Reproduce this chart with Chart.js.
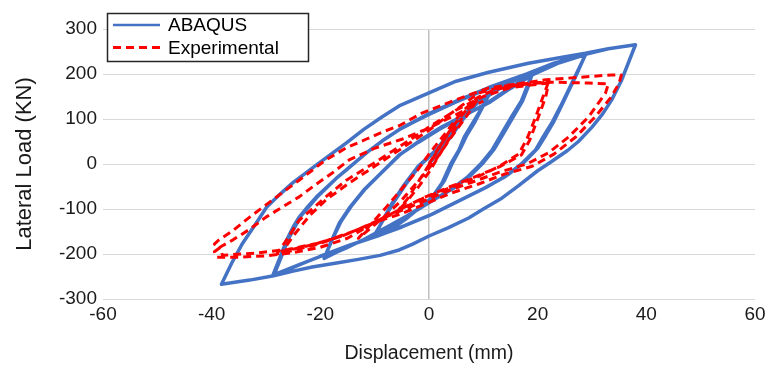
<!DOCTYPE html>
<html>
<head>
<meta charset="utf-8">
<script src="https://cdn.jsdelivr.net/npm/chart.js@4.4.1/dist/chart.umd.min.js"></script>
<style>
body { margin: 0; background: #fff; }
</style>
</head>
<body>
<canvas id="loadChart" width="771" height="365"></canvas>
<script>
// ABAQUS hysteresis (displacement mm / load kN)
const abaqusDisp = [
    0, 2, 4, 6, 8, 10, 11,
    9.5, 8, 6.5, 5.5, 4, 2.4, 0.5, -2, -4, -6, -8, -10,
    -8.5, -6.8, -4.5, -2, 1.3, 3.5, 5.5, 7.5, 9.2, 11,
    9.8, 8.5, 7, 5.8, 4.3, 2.8, 0.8, -1.8, -4, -6.2, -8.2, -10,
    -8.3, -6.5, -4.2, -1.7, 1.6, 3.8, 5.8, 7.8, 9.5, 11, 14, 17, 19,
    18, 17, 15.2, 13.5, 11.6, 9.5, 7, 4, 0, -4, -8, -12, -16, -19.3,
    -18, -16.5, -14.5, -12, -9, -5.5, -2, 2, 6, 11, 15, 19,
    18.2, 17.2, 15.5, 13.8, 12, 10, 7.5, 4.5, 0.5, -3.5, -7.5, -11.5, -15.5, -19.2,
    -17.8, -16.2, -14.2, -11.7, -8.7, -5.2, -1.7, 2.3, 6.3, 11.3, 15, 19, 24, 28.8,
    27.3, 25.7, 24.2, 22.6, 21, 19.6, 17, 14, 10, 5, 0, -5, -10, -15, -20, -24, -28.8,
    -27.5, -26.2, -25, -23.9, -22.3, -20.7, -17, -15.3, -11.6, -8.5, -5.5, -2.5, 0, 5, 11, 18, 23, 28.8,
    27.5, 26, 24.5, 23, 21.5, 20, 17.5, 14.5, 10.5, 5.5, 0.5, -4.5, -9.5, -14.5, -19.5, -24, -28.5,
    -27.2, -25.9, -23.6, -20.4, -16.8, -11.4, -8.3, -5.3, -2.3, 0, 5, 11, 18, 23, 28.8, 33, 38,
    36.7, 35.4, 33.6, 32, 30, 27.5, 25.5, 22.5, 20, 16.5, 13.4, 10, 7.3, 3.5, 0, -3, -5.5, -9, -13, -17, -21.5, -25, -28.8, -33, -38.2,
    -36.3, -34.3, -32, -29.9, -27.5, -25.1, -20.7, -15.2, -12, -8.6, -5.5, 0, 5, 11, 18.3, 24, 28.8, 33, 38
];
const abaqusLoad = [
    0, 30, 60, 95, 125, 148, 155,
    120, 90, 60, 31, 0, -42, -75, -100, -120, -137, -150, -160,
    -125, -87, -45, -5, 31, 65, 95, 122, 142, 153,
    125, 95, 65, 35, 2, -38, -72, -98, -118, -135, -148, -157,
    -122, -85, -44, -3, 33, 66, 96, 123, 142, 152, 175, 193, 203,
    170, 140, 105, 70, 31, 0, -30, -57, -85, -115, -142, -168, -190, -210,
    -172, -131, -95, -58, -22, 20, 48, 78, 104, 138, 170, 200,
    170, 140, 105, 70, 33, 3, -27, -54, -82, -112, -140, -165, -188, -207,
    -168, -128, -92, -55, -19, 22, 52, 82, 107, 138, 168, 198, 225, 243,
    205, 165, 128, 91, 60, 31, 0, -28, -55, -85, -115, -140, -162, -182, -205, -225, -249,
    -210, -169, -140, -118, -95, -73, -31, -14, 24, 52, 76, 95, 110, 138, 168, 198, 222, 243,
    208, 170, 132, 95, 64, 35, 4, -24, -52, -82, -112, -137, -160, -180, -203, -224, -246,
    -207, -167, -116, -71, -29, 26, 54, 78, 97, 112, 140, 170, 200, 224, 244, 256, 265,
    225, 185, 142, 112, 82, 50, 30, 5, -15, -48, -76, -100, -120, -142, -160, -178, -191, -203, -212, -220, -229, -238, -249, -258, -267,
    -220, -176, -135, -96, -68, -42, -2, 47, 77, 105, 129, 158, 184, 204, 224, 236, 246, 256, 265
];

// Experimental hysteresis
const expDisp = [
    0, 2, 4, 6,
    4, 2, 0, -2, -4, -6,
    -4, -2, 0, 2, 4, 7, 9,
    7, 4, 1, -2, -5, -8, -11, -13,
    -11, -8, -5, -2, 0, 3, 6, 9, 12, 16, 22,
    21, 19.5, 18, 16.5, 13, 9, 4, -1, -6, -11, -16, -21, -25, -28,
    -26, -23.9, -21, -19, -15.2, -10, -5, 0, 5, 10, 15, 22,
    21.5, 20, 18.5, 17, 13, 9, 4, -1, -6, -11, -16, -21, -27,
    -25, -22, -19, -15, -10, -5, 0, 4, 9.2, 15, 21.5, 28, 33.6, 35.4,
    35, 33.6, 30.6, 27, 23, 19, 14, 9, 4, 0, -5, -10, -15, -20, -25, -30, -35, -39,
    -39.5, -38.5, -39.5, -38.8,
    -36, -33, -28.8, -23.9, -19, -15.2, -11.6, -8.6, -5.5, -1.3, 5, 11, 15, 21.5, 29.4, 33,
    32.5, 29.4, 25.7, 22, 18, 13, 8, 3, -2, -8, -14, -20, -26, -32, -38,
    -38.5, -36, -33, -30, -26.9, -23.9, -20.9, -17.8, -14.7, -10, -5, 0, 5, 10
];
const expLoad = [
    0, 40, 75, 100,
    62, 22, -18, -52, -82, -108,
    -78, -40, -2, 38, 78, 122, 145,
    108, 58, 5, -38, -80, -115, -145, -165,
    -138, -98, -55, -12, 22, 68, 115, 148, 165, 175, 182,
    150, 100, 55, 22, -5, -28, -52, -76, -105, -135, -160, -180, -192, -200,
    -165, -125, -95, -73, -36, 3, 42, 82, 120, 150, 170, 180,
    150, 100, 52, 20, -6, -26, -50, -75, -105, -135, -160, -178, -195,
    -160, -115, -80, -45, -5, 35, 75, 112, 158, 176, 187, 193, 198, 198,
    180, 150, 105, 60, 22, -5, -22, -45, -65, -85, -110, -130, -165, -185, -197, -204, -207, -207,
    -195, -186, -178, -170,
    -147, -118, -80, -36, 9, 36, 55, 71, 85, 113, 143, 169, 176, 182, 180, 178,
    158, 105, 60, 25, 0, -18, -40, -62, -88, -118, -150, -175, -190, -198, -203,
    -185, -168, -145, -118, -95, -73, -46, -20, 9, 35, 55, 80, 110, 140
];

const xTicks = [-60, -40, -20, 0, 20, 40, 60];
const yTicks = [-300, -200, -100, 0, 100, 200, 300];

const fontFamily = '"Liberation Sans", Arial, sans-serif';

function toPoints(xs, ys) {
    return xs.map((x, i) => ({x: x, y: ys[i]}));
}

// legend drawn inside the plot, top left, like the original figure
const legendBox = {
    id: 'legendBox',
    afterDraw(chart) {
        const ctx = chart.ctx;
        ctx.save();
        ctx.fillStyle = '#fff';
        ctx.fillRect(107.5, 13.5, 201, 48);
        ctx.strokeStyle = '#262626';
        ctx.lineWidth = 1.5;
        ctx.strokeRect(107.5, 13.5, 201, 48);
        chart.data.datasets.forEach((ds, i) => {
            const y = 25 + i * 22.5;
            ctx.beginPath();
            ctx.setLineDash(ds.borderDash || []);
            ctx.strokeStyle = ds.borderColor;
            ctx.lineWidth = i == 0 ? 2.5 : 3;
            ctx.moveTo(113, y);
            ctx.lineTo(160, y);
            ctx.stroke();
            ctx.setLineDash([]);
            ctx.fillStyle = '#000';
            ctx.font = '19px ' + fontFamily;
            ctx.textBaseline = 'middle';
            ctx.fillText(ds.label, 168, y + 1);
        });
        ctx.restore();
    }
};

const data = {
    datasets: [{
        label: 'ABAQUS',
        data: toPoints(abaqusDisp, abaqusLoad),
        borderColor: '#4472C4',
        backgroundColor: '#4472C4',
        borderWidth: 3.5,
        borderJoinStyle: 'round',
        showLine: true,
        tension: 0,
        pointRadius: 0,
        order: 1
    },
    {
        label: 'Experimental',
        data: toPoints(expDisp, expLoad),
        borderColor: '#FF0000',
        backgroundColor: '#FF0000',
        borderWidth: 3,
        borderDash: [8, 5],
        borderJoinStyle: 'round',
        showLine: true,
        tension: 0,
        pointRadius: 0,
        order: 0
    }]
};

const config = {
    type: 'scatter',
    data,
    options: {
        responsive: false,
        animation: false,
        layout: {padding: {left: 0, top: 29, right: 16, bottom: 0}},
        plugins: {
            legend: {display: false},
            tooltip: {enabled: false}
        },
        scales: {
            x: {
                type: 'linear',
                min: xTicks[0],
                max: xTicks[xTicks.length - 1],
                afterBuildTicks: (scale) => { scale.ticks = xTicks.map(v => ({value: v})); },
                afterFit: (scale) => { scale.height = 66; },
                ticks: {color: '#1a1a1a', font: {family: fontFamily, size: 19}, padding: 4, maxRotation: 0},
                grid: {
                    drawTicks: false,
                    color: (c) => (c.tick && c.tick.value === 0) ? '#c0c0c0' : 'rgba(0,0,0,0)',
                    lineWidth: 1.5
                },
                border: {display: false},
                title: {
                    display: true,
                    text: 'Displacement (mm)',
                    color: '#1a1a1a',
                    font: {family: fontFamily, size: 19.5},
                    padding: {top: 0, bottom: 0}
                }
            },
            y: {
                type: 'linear',
                min: yTicks[0],
                max: yTicks[yTicks.length - 1],
                afterBuildTicks: (scale) => { scale.ticks = yTicks.map(v => ({value: v})); },
                afterFit: (scale) => { scale.width = 103; },
                ticks: {color: '#1a1a1a', font: {family: fontFamily, size: 19}, padding: 6},
                grid: {drawTicks: false, color: '#d9d9d9', lineWidth: 1},
                border: {display: false},
                title: {
                    display: true,
                    text: 'Lateral Load (KN)',
                    color: '#1a1a1a',
                    font: {family: fontFamily, size: 22},
                    padding: {top: 12, bottom: 0}
                }
            }
        }
    },
    plugins: [legendBox]
};

const myChart = new Chart(document.getElementById('loadChart'), config);
</script>
</body>
</html>
